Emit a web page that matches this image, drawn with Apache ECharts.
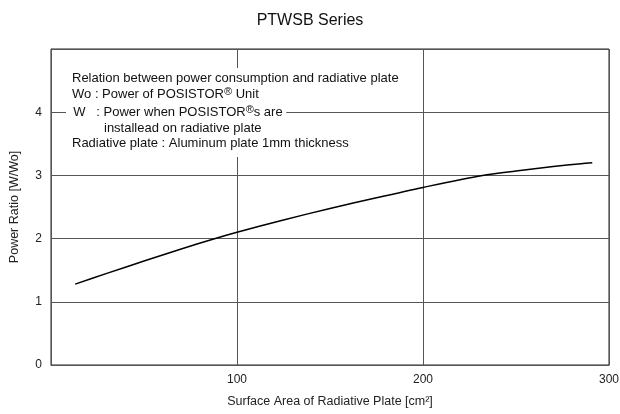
<!DOCTYPE html>
<html>
<head>
<meta charset="utf-8">
<script src="https://cdn.jsdelivr.net/npm/echarts@6/dist/echarts.min.js"></script>
<style>
  html, body { margin: 0; padding: 0; background: #fff; }
  #chart { width: 620px; height: 414px; }
</style>
</head>
<body>
<div id="chart"></div>
<script>
// surface area of radiative plate [cm2]
const areaX = [13, 30, 50, 70, 87, 100, 125, 150, 175, 200, 232, 250, 270, 285, 291];
// power ratio W/Wo
const powerRatio = [1.28, 1.45, 1.645, 1.835, 1.99, 2.1, 2.295, 2.477, 2.647, 2.81, 3.0, 3.07, 3.14, 3.185, 3.2];
const xTicks = [0, 100, 200, 300];
const yTicks = [0, 1, 2, 3, 4, 5];

const font = "Liberation Sans, Arial, sans-serif";
const gridColor = "#555";
const noteFont = "13px " + font;

const chart = echarts.init(document.getElementById("chart"));

// ® drawn as a small raised mark
const supText = (s) => s.replace(/®/g, "{sup|®}");
const noteRich = {
  sup: { fontSize: 11, fontFamily: font, color: "#111", padding: [0, 0, 6, 0] }
};

const option = {
  animation: false,
  backgroundColor: "#fff",
  title: {
    text: "PTWSB Series",
    left: "center",
    top: 8,
    textStyle: { fontFamily: font, fontSize: 16, fontWeight: "normal", color: "#111" }
  },
  grid: {
    left: 51,
    right: 11,
    top: 49,
    bottom: 49,
    outerBoundsMode: "none",
    containLabel: false,
    show: true,
    borderColor: "#222",
    borderWidth: 1
  },
  xAxis: {
    type: "value",
    min: xTicks[0],
    max: xTicks[xTicks.length - 1],
    interval: 100,
    name: "Surface Area of Radiative Plate [cm²]",
    nameLocation: "middle",
    nameGap: 30,
    nameTextStyle: { fontFamily: font, fontSize: 12.5, color: "#222" },
    axisLine: { lineStyle: { color: gridColor } },
    axisTick: { show: false },
    axisLabel: {
      fontFamily: font, fontSize: 12, color: "#222", margin: 9,
      formatter: (v) => (v === 0 ? "" : String(v))
    },
    splitLine: { show: true, lineStyle: { color: gridColor, width: 1 } }
  },
  yAxis: {
    type: "value",
    min: yTicks[0],
    max: yTicks[yTicks.length - 1],
    interval: 1,
    name: "Power Ratio [W/Wo]",
    nameLocation: "middle",
    nameGap: 30,
    nameTextStyle: { fontFamily: font, fontSize: 12.5, color: "#222" },
    axisLine: { show: true, lineStyle: { color: gridColor } },
    axisTick: { show: false },
    axisLabel: {
      fontFamily: font, fontSize: 12, color: "#222", margin: 9,
      formatter: (v) => (v === 5 ? "" : String(v))
    },
    splitLine: { show: true, lineStyle: { color: gridColor, width: 1 } }
  },
  series: [
    {
      type: "line",
      z: 6,
      data: areaX.map((x, i) => [x, powerRatio[i]]),
      smooth: 0.3,
      symbol: "none",
      lineStyle: { color: "#000", width: 1.5 },
      markLine: {
        silent: true,
        symbol: "none",
        label: { show: false },
        lineStyle: { color: gridColor, width: 1, type: "solid" },
        data: [{ yAxis: 4 }]
      }
    }
  ],
  graphic: [
    // white box behind the note
    { type: "rect", z: 5, shape: { x: 66, y: 68, width: 345, height: 89 }, style: { fill: "#fff" } },
    {
      type: "text", z: 7, left: 72, top: 72,
      style: { text: "Relation between power consumption and radiative plate", font: noteFont, fill: "#111" }
    },
    {
      type: "text", z: 7, left: 72, top: 86,
      style: { text: supText("Wo : Power of POSISTOR® Unit"), font: noteFont, fill: "#111", rich: noteRich }
    },
    {
      type: "text", z: 7, left: 66, top: 104,
      style: {
        text: supText("  W   : Power when POSISTOR®s are "), font: noteFont, fill: "#111",
        rich: noteRich, backgroundColor: "#fff"
      }
    },
    {
      type: "text", z: 7, left: 104, top: 122,
      style: { text: "installead on radiative plate", font: noteFont, fill: "#111" }
    },
    {
      type: "text", z: 7, left: 72, top: 137,
      style: { text: "Radiative plate : Aluminum plate 1mm thickness", font: noteFont, fill: "#111" }
    }
  ]
};

chart.setOption(option);
</script>
</body>
</html>
